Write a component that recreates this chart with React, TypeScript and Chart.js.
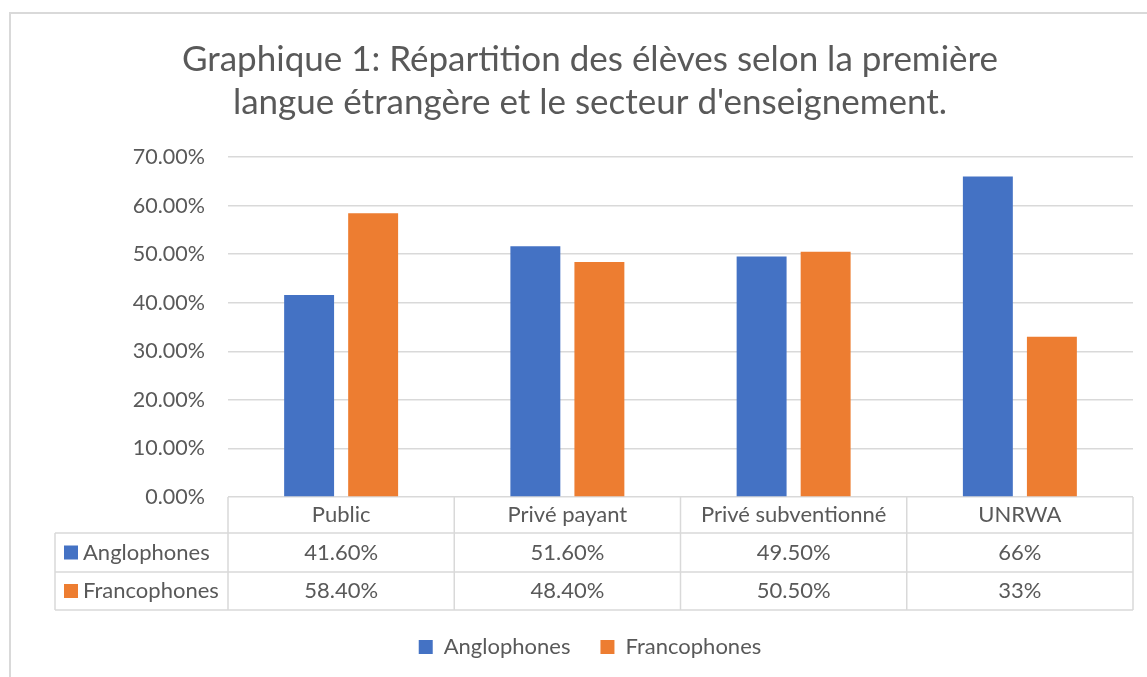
import React, { useEffect, useRef } from 'react';
import { Chart, registerables } from 'chart.js';

Chart.register(...registerables);

const titleLines = [
  'Graphique 1: Répartition des élèves selon la première',
  "langue étrangère et le secteur d'enseignement.",
];
const categories = ['Public', 'Privé payant', 'Privé subventionné', 'UNRWA'];
const seriesNames = ['Anglophones', 'Francophones'];
const anglophones = [41.6, 51.6, 49.5, 66];
const francophones = [58.4, 48.4, 50.5, 33];
const anglophonesTable = ['41.60%', '51.60%', '49.50%', '66%'];
const francophonesTable = ['58.40%', '48.40%', '50.50%', '33%'];
const yMin = 0;
const yMax = 70;
const yStep = 10;

const BLUE = '#4472C4';
const ORANGE = '#ED7D31';
const TEXT = '#595959';
const LINE = '#D9D9D9';
const FONT = 'Lato, "Open Sans", sans-serif';

const frame = {
  id: 'frame',
  beforeDraw(chart: any) {
    const ctx = chart.ctx;
    ctx.save();
    ctx.fillStyle = '#FFFFFF';
    ctx.fillRect(0, 0, chart.width, chart.height);
    ctx.strokeStyle = LINE;
    ctx.lineWidth = 2;
    ctx.strokeRect(10, 13, chart.width + 50, chart.height + 50);
    ctx.restore();
  },
};

const dataTable = {
  id: 'dataTable',
  afterDraw(chart: any) {
    const ctx = chart.ctx;
    const { left, right, bottom } = chart.chartArea;
    const n = categories.length;
    const colW = (right - left) / n;
    const tableLeft = 55;
    const r0 = bottom;
    const r1 = bottom + 36;
    const r2 = r1 + 39;
    const r3 = r2 + 38;
    ctx.save();
    ctx.strokeStyle = LINE;
    ctx.lineWidth = 1.5;
    const hl = (x1: number, x2: number, y: number) => {
      ctx.beginPath();
      ctx.moveTo(x1, y);
      ctx.lineTo(x2, y);
      ctx.stroke();
    };
    const vl = (x: number, y1: number, y2: number) => {
      ctx.beginPath();
      ctx.moveTo(x, y1);
      ctx.lineTo(x, y2);
      ctx.stroke();
    };
    hl(tableLeft, right, r1);
    hl(tableLeft, right, r2);
    hl(tableLeft, right, r3);
    vl(tableLeft, r1, r3);
    for (let i = 0; i <= n; i++) vl(left + i * colW, r0, r3);

    ctx.fillStyle = TEXT;
    ctx.font = `22px ${FONT}`;
    ctx.textBaseline = 'middle';
    ctx.textAlign = 'center';
    const xs = chart.scales.x;
    categories.forEach((c, i) => {
      const cx = xs.getPixelForValue(i);
      ctx.fillText(c, cx, (r0 + r1) / 2);
      ctx.fillText(anglophonesTable[i], cx, (r1 + r2) / 2);
      ctx.fillText(francophonesTable[i], cx, (r2 + r3) / 2);
    });
    ctx.textAlign = 'left';
    const rows = [
      { name: seriesNames[0], color: BLUE, y: (r1 + r2) / 2 },
      { name: seriesNames[1], color: ORANGE, y: (r2 + r3) / 2 },
    ];
    rows.forEach((r) => {
      ctx.fillStyle = r.color;
      ctx.fillRect(64, r.y - 7, 14, 14);
      ctx.fillStyle = TEXT;
      ctx.fillText(r.name, 83, r.y);
    });
    ctx.restore();
  },
};

export default function App() {
  const canvasRef = useRef<HTMLCanvasElement | null>(null);

  useEffect(() => {
    document.body.style.margin = '0';
    const canvas = canvasRef.current;
    if (!canvas) return;
    const chart = new Chart(canvas, {
      type: 'bar',
      data: {
        labels: categories,
        datasets: [
          {
            label: seriesNames[0],
            data: anglophones,
            backgroundColor: BLUE,
            borderWidth: 0,
            categoryPercentage: 0.566,
            barPercentage: 0.78,
          },
          {
            label: seriesNames[1],
            data: francophones,
            backgroundColor: ORANGE,
            borderWidth: 0,
            categoryPercentage: 0.566,
            barPercentage: 0.78,
          },
        ],
      },
      options: {
        responsive: false,
        animation: false,
        devicePixelRatio: 1,
        layout: { padding: { top: 12, left: 33, right: 0, bottom: 11 } },
        plugins: {
          title: {
            display: true,
            text: titleLines,
            color: TEXT,
            font: { family: FONT, size: 35, weight: 'normal', lineHeight: '43px' },
            padding: { top: 26.5, bottom: 32.5 },
          },
          legend: {
            display: true,
            position: 'bottom',
            maxHeight: 60,
            labels: {
              color: TEXT,
              font: { family: FONT, size: 22 },
              boxWidth: 14,
              boxHeight: 14,
              padding: 30,
            },
          },
          tooltip: { enabled: false },
        },
        scales: {
          x: {
            display: true,
            grid: { display: false },
            border: { display: false },
            ticks: { display: false },
            afterFit: (s: any) => {
              s.height = 109;
            },
          },
          y: {
            min: yMin,
            max: yMax,
            position: 'left',
            grid: { color: LINE, lineWidth: 1.5, drawTicks: false },
            border: { display: false },
            ticks: {
              stepSize: yStep,
              color: TEXT,
              font: { family: FONT, size: 21.5 },
              padding: 23,
              callback: (v: any) => Number(v).toFixed(2) + '%',
            },
            afterFit: (s: any) => {
              s.width = 195;
            },
          },
          yR: {
            type: 'linear',
            position: 'right',
            display: true,
            grid: { display: false },
            border: { display: false },
            ticks: { display: false },
            afterFit: (s: any) => {
              s.width = 14;
            },
          },
        },
      },
      plugins: [frame, dataTable],
    });
    return () => chart.destroy();
  }, []);

  return (
    <div style={{ width: 1147, height: 677, position: 'relative' }}>
      <canvas ref={canvasRef} width={1147} height={677} style={{ display: 'block', width: 1147, height: 677 }} />
    </div>
  );
}
